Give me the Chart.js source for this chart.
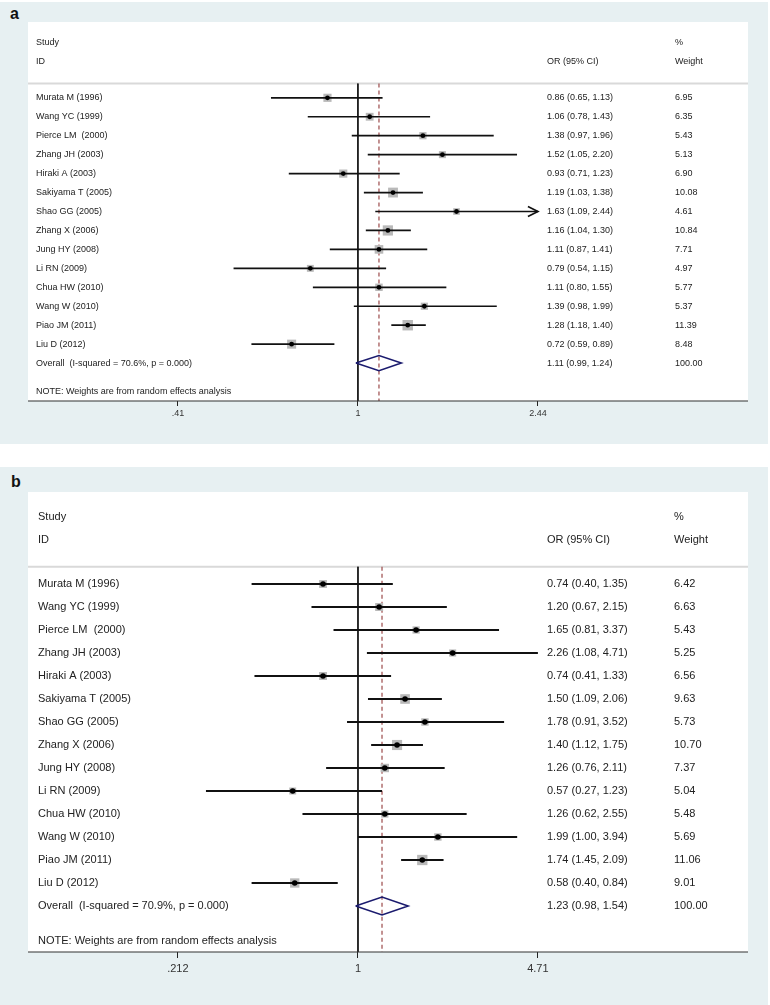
<!DOCTYPE html>
<html><head><meta charset="utf-8">
<script src="https://cdn.jsdelivr.net/npm/chart.js@4.4.0/dist/chart.umd.min.js"></script>
<style>
body{margin:0;background:#fff;width:770px;height:1005px;position:relative;overflow:hidden;font-family:"Liberation Sans",Arial,sans-serif}
.bg{position:absolute;left:0;width:768px;background:#e7f0f2}
canvas{position:absolute;left:0}
.lbl{position:absolute;font-weight:bold;font-size:16px;line-height:16px;color:#111}
</style></head><body>
<div class="bg" style="top:2px;height:442px"></div>
<div class="bg" style="top:467px;height:538px"></div>
<div class="lbl" style="left:10px;top:6px">a</div>
<div class="lbl" style="left:11px;top:474px">b</div>
<canvas id="ca" width="770" height="444" style="top:0"></canvas>
<canvas id="cb" width="770" height="538" style="top:467px"></canvas>
<script>
// ---- data ----
const studies = ["Murata M (1996)","Wang YC (1999)","Pierce LM  (2000)","Zhang JH (2003)","Hiraki A (2003)","Sakiyama T (2005)","Shao GG (2005)","Zhang X (2006)","Jung HY (2008)","Li RN (2009)","Chua HW (2010)","Wang W (2010)","Piao JM (2011)","Liu D (2012)"];

const orA = [0.86,1.06,1.38,1.52,0.93,1.19,1.63,1.16,1.11,0.79,1.11,1.39,1.28,0.72];
const loA = [0.65,0.78,0.97,1.05,0.71,1.03,1.09,1.04,0.87,0.54,0.80,0.98,1.18,0.59];
const hiA = [1.13,1.43,1.96,2.20,1.23,1.38,2.44,1.30,1.41,1.15,1.55,1.99,1.40,0.89];
const wA  = [6.95,6.35,5.43,5.13,6.90,10.08,4.61,10.84,7.71,4.97,5.77,5.37,11.39,8.48];
const arrowA = [false,false,false,false,false,false,true,false,false,false,false,false,false,false];
const overallA = [1.11,0.99,1.24];
const hetA = "Overall  (I-squared = 70.6%, p = 0.000)";
const tickValsA = [0.41,1,2.44];
const tickLabelsA = [".41","1","2.44"];
const rangeA = [0.195,6.91];

const orB = [0.74,1.20,1.65,2.26,0.74,1.50,1.78,1.40,1.26,0.57,1.26,1.99,1.74,0.58];
const loB = [0.40,0.67,0.81,1.08,0.41,1.09,0.91,1.12,0.76,0.27,0.62,1.00,1.45,0.40];
const hiB = [1.35,2.15,3.37,4.71,1.33,2.06,3.52,1.75,2.11,1.23,2.55,3.94,2.09,0.84];
const wB  = [6.42,6.63,5.43,5.25,6.56,9.63,5.73,10.70,7.37,5.04,5.48,5.69,11.06,9.01];
const arrowB = [false,false,false,false,false,false,false,false,false,false,false,false,false,false];
const overallB = [1.23,0.98,1.54];
const hetB = "Overall  (I-squared = 70.9%, p = 0.000)";
const tickValsB = [0.212,1,4.71];
const tickLabelsB = [".212","1","4.71"];
const rangeB = [0.0583,28.77];

const noteText = "NOTE: Weights are from random effects analysis";
const FONT = '"Liberation Sans", Arial, sans-serif';

function fmtCI(o,l,h){ return o.toFixed(2)+" ("+l.toFixed(2)+", "+h.toFixed(2)+")"; }

function makeChart(id, d){
  const n = d.or.length;
  const pts = d.or.map((v,i)=>({x:v,y:i}));
  const datasets = [];
  d.lo.forEach((lo,i)=>datasets.push({data:[{x:lo,y:i},{x:d.hi[i],y:i}],showLine:true,borderColor:'#111',borderWidth:d.lw,pointRadius:0,order:2}));
  datasets.push({data:pts,pointStyle:'rect',pointRadius:ctx=>d.k*Math.sqrt(d.w[ctx.dataIndex])/Math.SQRT2,backgroundColor:'#b9b9b9',borderWidth:0,order:3});
  datasets.push({data:pts,pointStyle:'circle',pointRadius:d.dot,backgroundColor:'#000',borderWidth:0,order:1});
  const [e,l,h] = d.overall;
  datasets.push({data:[{x:l,y:n},{x:e,y:n-d.dh},{x:h,y:n},{x:e,y:n+d.dh},{x:l,y:n}],showLine:true,borderColor:'#1b1b6e',borderWidth:1.6,pointRadius:0,fill:false,order:1});
  datasets.push({data:[{x:1,y:-0.75},{x:1,y:16}],showLine:true,borderColor:'#111',borderWidth:1,pointRadius:0,order:4});
  datasets.push({data:[{x:e,y:-0.75},{x:e,y:16}],showLine:true,borderColor:'#9c4a4a',borderWidth:1.2,borderDash:[4,3],pointRadius:0,order:4});

  const plug = {
    id:'forestText'+id,
    beforeDatasetsDraw(chart){
      const a = chart.chartArea, c = chart.ctx, ys = chart.scales.y;
      c.save();
      c.fillStyle='#fff'; c.fillRect(a.left,a.top,a.right-a.left,a.bottom-a.top);
      const yy = ys.getPixelForValue(-0.75);
      c.strokeStyle='#d9d9d9'; c.lineWidth=2;
      c.beginPath(); c.moveTo(a.left,yy); c.lineTo(a.right,yy); c.stroke();
      c.restore();
    },
    afterDatasetsDraw(chart){
      const c = chart.ctx, ys = chart.scales.y, xs = chart.scales.x, a = chart.chartArea;
      const Y = v=>ys.getPixelForValue(v);
      c.save();
      // x axis line
      c.strokeStyle='#333'; c.lineWidth=1.2;
      c.beginPath(); c.moveTo(a.left,a.bottom); c.lineTo(a.right,a.bottom); c.stroke();
      c.font = d.fs+'px '+FONT; c.fillStyle='#222'; c.textBaseline='middle'; c.textAlign='left';
      c.fillText("Study", d.xName, Y(-2.93));
      c.fillText("ID", d.xName, Y(-1.93));
      c.fillText("%", d.xW, Y(-2.93));
      c.fillText("OR (95% CI)", d.xOr, Y(-1.93));
      c.fillText("Weight", d.xW, Y(-1.93));
      for(let i=0;i<n;i++){
        c.fillText(studies[i], d.xName, Y(i));
        c.fillText(fmtCI(d.or[i],d.lo[i],d.hi[i]), d.xOr, Y(i));
        c.fillText(d.w[i].toFixed(2), d.xW, Y(i));
      }
      c.fillText(d.het, d.xName, Y(n));
      c.fillText(fmtCI(e,l,h), d.xOr, Y(n));
      c.fillText("100.00", d.xW, Y(n));
      c.fillText(noteText, d.xName, Y(15.52));
      // arrows for truncated CIs
      c.strokeStyle='#111'; c.lineWidth=d.lw;
      for(let i=0;i<n;i++){
        if(!d.arrow[i]) continue;
        const x = xs.getPixelForValue(d.hi[i]), y = Y(i);
        c.beginPath(); c.moveTo(x-10,y-5); c.lineTo(x,y); c.lineTo(x-10,y+5); c.stroke();
      }
      c.restore();
    }
  };

  return new Chart(document.getElementById(id), {
    type:'scatter',
    data:{datasets},
    options:{
      responsive:false, animation:false, events:[],
      layout:{padding:{left:28,right:22,top:d.top,bottom:0}},
      plugins:{legend:{display:false},tooltip:{enabled:false}},
      scales:{
        x:{type:'logarithmic',min:d.range[0],max:d.range[1],
          afterBuildTicks:s=>{ s.ticks = d.tickVals.map(v=>({value:v})); },
          afterFit:s=>{ s.height = d.axisH; },
          ticks:{autoSkip:false,maxRotation:0,padding:d.tpad,color:'#333',font:{family:FONT,size:d.fs},
            callback:(v,i)=>d.tickLabels[i]},
          grid:{display:true,drawOnChartArea:false,drawTicks:true,tickLength:d.tlen,color:'#222',lineWidth:1},
          border:{display:false}
        },
        y:{type:'linear',reverse:true,min:-4,max:16,display:false}
      }
    },
    plugins:[plug]
  });
}

makeChart('ca',{or:orA,lo:loA,hi:hiA,w:wA,arrow:arrowA,overall:overallA,het:hetA,
  tickVals:tickValsA,tickLabels:tickLabelsA,range:rangeA,
  fs:9,xName:36,xOr:547,xW:675,top:22,axisH:43,tlen:5,tpad:2,k:3.1,dot:2.4,dh:0.4,lw:1.7});
makeChart('cb',{or:orB,lo:loB,hi:hiB,w:wB,arrow:arrowB,overall:overallB,het:hetB,
  tickVals:tickValsB,tickLabels:tickLabelsB,range:rangeB,
  fs:11,xName:38,xOr:547,xW:674,top:25,axisH:53,tlen:6,tpad:4,k:3.1,dot:2.8,dh:0.39,lw:2});
</script>
</body></html>
